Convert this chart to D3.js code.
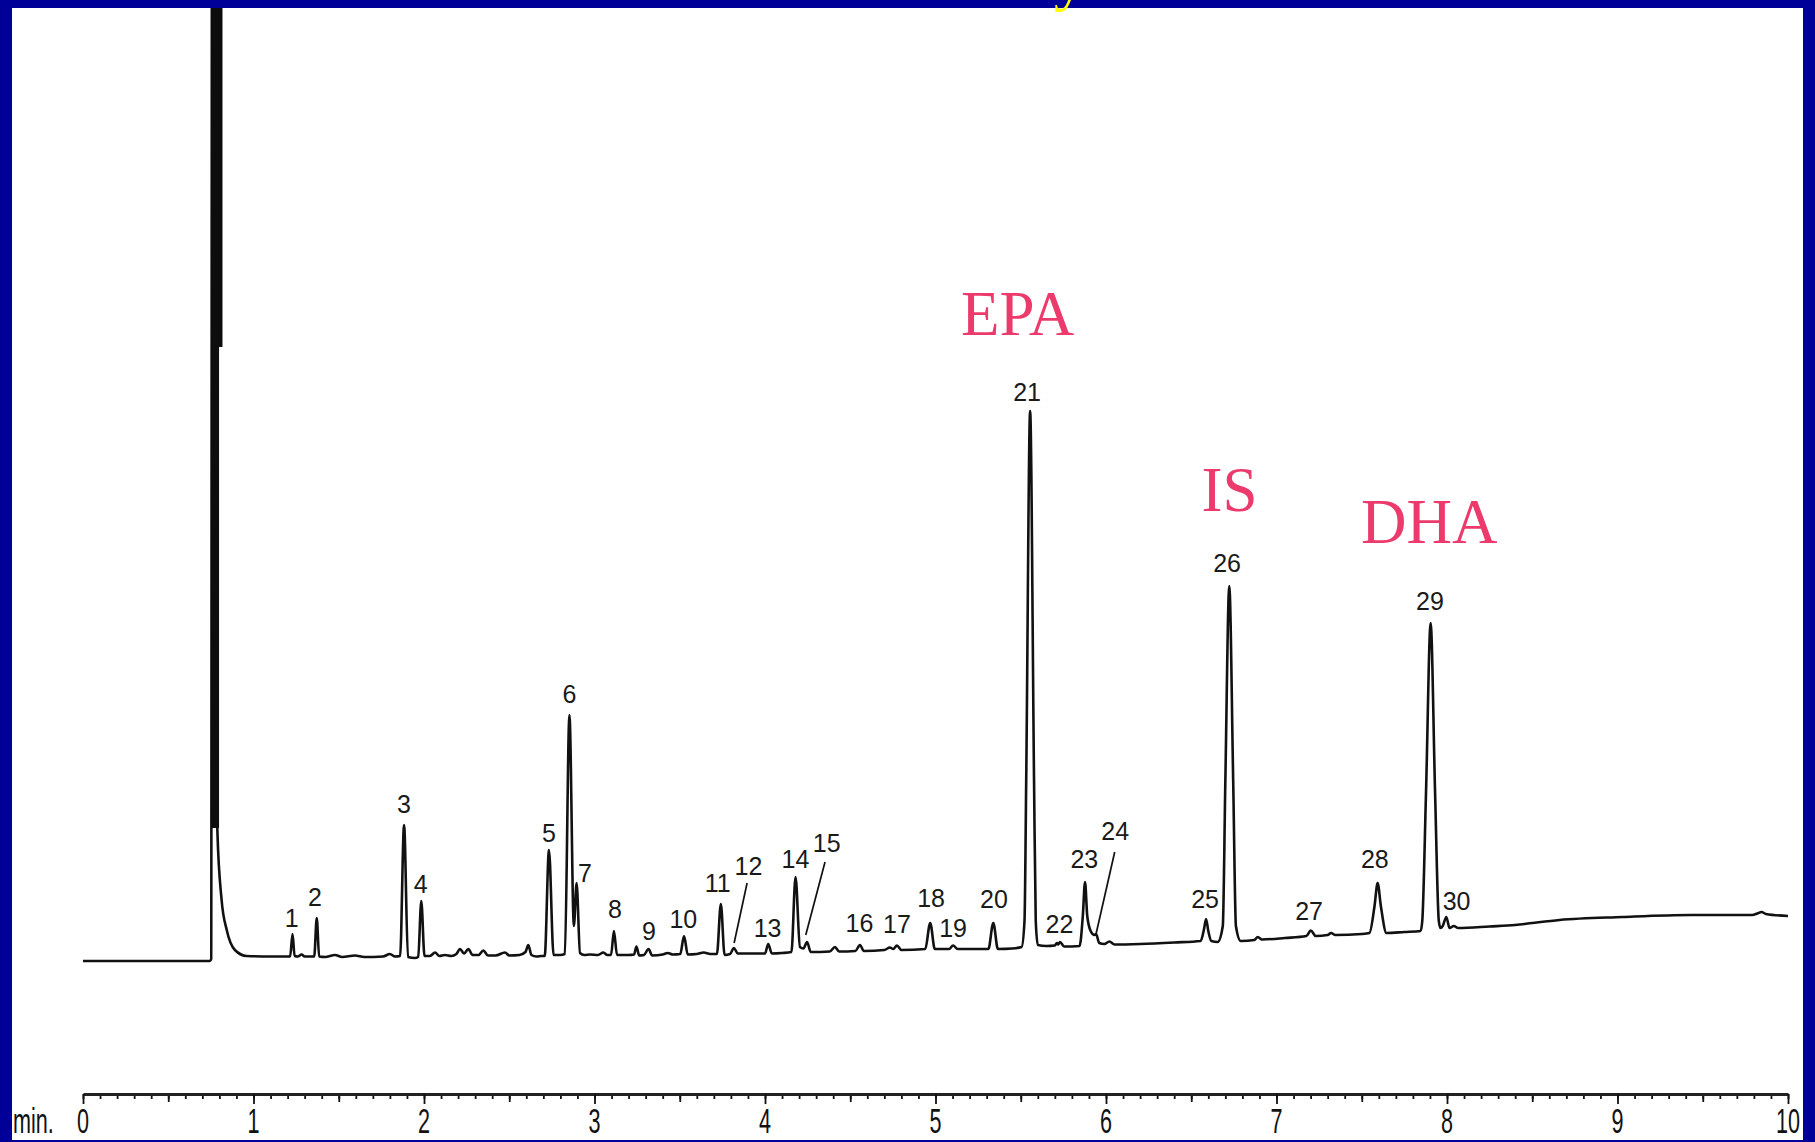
<!DOCTYPE html>
<html><head><meta charset="utf-8">
<script src="https://cdn.jsdelivr.net/npm/d3@7"></script>
<style>html,body{margin:0;padding:0;background:#000099;overflow:hidden}</style>
</head><body>
<svg id="c" width="1815" height="1142"></svg>
<script>
// Chromatogram trace: [retention time (min), detector signal (a.u.)]
const trace = [
  [0.00, 0], [0.745, 0], [0.752, 2],
  [0.757, 1200], [0.784, 1200],
  [0.788, 131], [0.813, 61], [0.843, 31], [0.891, 11], [0.96, 5], [1.10, 4.5],
  [1.215, 4.5], [1.229, 27], [1.241, 5], [1.26, 4.5], [1.282, 6.5], [1.30, 4.5],
  [1.356, 4.5], [1.371, 43], [1.385, 4.5], [1.42, 4], [1.478, 6], [1.52, 4], [1.595, 5.5], [1.65, 4], [1.76, 4.5], [1.80, 7], [1.83, 4.5],
  [1.860, 5], [1.883, 136], [1.906, 4], [1.947, 3],
  [1.966, 4], [1.984, 60], [2.003, 5], [2.035, 5], [2.065, 8.5], [2.09, 5], [2.123, 6], [2.16, 5], [2.19, 7], [2.211, 12], [2.235, 7.5],
  [2.26, 12], [2.285, 6], [2.32, 6], [2.348, 10.5], [2.375, 5.5], [2.42, 5.5], [2.475, 8.5], [2.50, 5.5], [2.56, 6], [2.595, 9], [2.612, 16],
  [2.63, 6], [2.66, 4.5], [2.69, 5],
  [2.708, 5], [2.733, 111], [2.760, 6], [2.798, 6],
  [2.826, 7], [2.853, 246], [2.879, 35], [2.895, 78], [2.915, 8], [2.94, 6], [2.974, 6.5], [3.02, 6], [3.052, 8.5], [3.075, 6],
  [3.097, 6], [3.114, 30], [3.132, 6], [3.20, 6], [3.232, 6.5], [3.246, 14.5], [3.262, 5.5], [3.29, 6], [3.317, 12], [3.338, 5.5],
  [3.40, 6.5], [3.43, 8], [3.46, 6.5],
  [3.503, 7], [3.525, 25], [3.547, 6.5], [3.60, 7], [3.64, 8.5], [3.68, 7], [3.718, 7],
  [3.741, 57], [3.763, 6], [3.795, 7], [3.818, 13], [3.84, 7.5], [3.98, 7.5],
  [4.0, 7.5], [4.019, 17], [4.04, 7.5], [4.10, 8], [4.155, 9],
  [4.179, 84], [4.205, 14], [4.225, 12.5], [4.247, 19], [4.268, 9], [4.38, 9.5], [4.41, 14], [4.435, 9.5], [4.53, 10], [4.557, 16], [4.58, 10],
  [4.70, 11], [4.733, 13.5], [4.752, 12], [4.774, 15.5], [4.80, 11], [4.94, 12],
  [4.969, 38], [4.996, 12], [5.08, 12], [5.103, 15.5], [5.13, 12], [5.31, 12],
  [5.339, 38], [5.366, 12], [5.45, 12.5], [5.505, 14],
  [5.522, 40], [5.532, 180], [5.555, 550], [5.578, 180], [5.588, 40], [5.60, 16], [5.65, 15], [5.70, 15.5], [5.712, 18], [5.72, 16.5],
  [5.73, 19], [5.755, 14.5], [5.845, 15],
  [5.864, 45], [5.877, 79], [5.89, 45], [5.91, 30], [5.932, 26], [5.942, 27], [5.96, 18], [5.99, 17], [6.02, 19.5], [6.05, 16.5],
  [6.20, 17], [6.40, 18.5], [6.555, 20],
  [6.575, 32], [6.587, 42], [6.60, 30], [6.618, 20], [6.655, 19], [6.685, 35],
  [6.700, 180], [6.723, 375], [6.746, 180], [6.762, 35], [6.79, 20], [6.87, 21], [6.89, 24], [6.915, 21.5], [7.05, 23], [7.175, 25],
  [7.201, 30.5], [7.23, 25], [7.30, 26], [7.32, 28], [7.345, 26], [7.50, 27], [7.545, 28],
  [7.575, 55], [7.593, 78], [7.612, 55], [7.645, 28], [7.75, 29], [7.845, 30],
  [7.855, 40], [7.877, 169], [7.904, 338], [7.930, 169], [7.952, 40], [7.962, 33],
  [7.975, 35], [7.996, 44], [8.015, 33], [8.04, 35], [8.065, 33], [8.25, 34.5], [8.40, 36], [8.50, 38], [8.66, 41],
  [9.03, 44], [9.43, 46], [9.79, 46], [9.82, 47.5], [9.845, 49], [9.87, 47], [10.0, 45]
];

// Overloaded solvent front (heavy pen bands): time span and signal span
const solventBandT0 = [0.751, 0.751];
const solventBandT1 = [0.818, 0.798];
const solventBandLow = [614, 133];
const solventBandHigh = [1200, 614];

// Peak numbers and where their labels sit (time, signal level of text baseline)
const peakIds     = ["1","2","3","4","5","6","7","8","9","10","11","12","13","14","15","16","17","18","19","20","21","22","23","24","25","26","27","28","29","30"];
const labelTimes  = [1.224,1.361,1.883,1.981,2.733,2.853,2.944,3.120,3.320,3.521,3.723,3.903,4.015,4.179,4.362,4.554,4.774,4.974,5.103,5.343,5.537,5.727,5.873,6.054,6.581,6.710,7.191,7.577,7.900,8.056];
const labelLevels = [34,55,148,68,119,258,79,43,21,33,69,86,24,93,109,29,28,54,24,53,560,28,93,121,53,389,41,93,351,51];

// Leader lines for peaks 12, 15, 24: [t from, level from, t to, level to]
const leaderIds = ["12","15","24"];
const leaders = [[3.895, 78, 3.819, 18], [4.352, 99, 4.239, 26], [6.051, 109, 5.941, 26.5]];

// Compound annotations
const compoundNames  = ["EPA", "IS", "DHA"];
const compoundTimes  = [5.150, 6.560, 7.495];
const compoundLevels = [626.5, 450.5, 418];

// Axis
const majorTicks = [0,1,2,3,4,5,6,7,8,9,10];
const tickLabels = ["0","1","2","3","4","5","6","7","8","9","10"];
const axisUnit = "min.";
const titleFragment = "y";

const W = 1815, H = 1142;
const svg = d3.select("#c");
svg.append("rect").attr("width", W).attr("height", H).attr("fill", "#000099");
svg.append("rect").attr("x", 12).attr("y", 8).attr("width", 1791).attr("height", 1132).attr("fill", "#ffffff");

// cut-off slide title (only a descender shows, as in the source slide)
svg.append("text").attr("x", 1054).attr("y", -2)
  .attr("font-family", "'Liberation Serif','Times New Roman',serif")
  .attr("font-size", 63).attr("fill", "#ffff00").text(titleFragment);

svg.append("clipPath").attr("id", "plotclip").append("rect")
  .attr("x", 12).attr("y", 8).attr("width", 1791).attr("height", 1132);

const x = d3.scaleLinear().domain([0, 10]).range([83, 1788]);
const y = d3.scaleLinear().domain([0, 953]).range([961, 8]);

const plot = svg.append("g").attr("clip-path", "url(#plotclip)");

plot.append("path").datum(trace)
  .attr("d", d3.line().x(d => x(d[0])).y(d => y(d[1])).curve(d3.curveMonotoneX))
  .attr("fill", "none").attr("stroke", "#111").attr("stroke-width", 2.6)
  .attr("stroke-linejoin", "round");

plot.selectAll("rect.band").data(solventBandT0).join("rect").attr("class", "band")
  .attr("x", (d, i) => x(d))
  .attr("width", (d, i) => x(solventBandT1[i]) - x(d))
  .attr("y", (d, i) => y(solventBandHigh[i]))
  .attr("height", (d, i) => y(solventBandLow[i]) - y(solventBandHigh[i]))
  .attr("fill", "#0d0d0d");

// peak labels
plot.selectAll("text.pk").data(peakIds).join("text").attr("class", "pk")
  .attr("x", (d, i) => x(labelTimes[i]))
  .attr("y", (d, i) => y(labelLevels[i]))
  .attr("text-anchor", "middle")
  .attr("font-family", "'Liberation Sans',Arial,sans-serif")
  .attr("font-size", 25).attr("fill", "#1a1a1a").text(d => d);

plot.selectAll("line.ld").data(leaders).join("line").attr("class", "ld")
  .attr("x1", d => x(d[0])).attr("y1", d => y(d[1]))
  .attr("x2", d => x(d[2])).attr("y2", d => y(d[3]))
  .attr("stroke", "#111").attr("stroke-width", 1.7);

plot.selectAll("text.cmp").data(compoundNames).join("text").attr("class", "cmp")
  .attr("x", (d, i) => x(compoundTimes[i]))
  .attr("y", (d, i) => y(compoundLevels[i]))
  .attr("font-family", "'Liberation Serif','Times New Roman',serif")
  .attr("font-size", 63).attr("fill", "#ec3a6c").text(d => d);

// time axis
const axisY = 1094;
const minorVals = d3.range(0, 101).map(i => i / 10);
const halfVals = d3.range(0, 10).map(i => i + 0.5);
const gMinor = svg.append("g").attr("transform", `translate(0,${axisY})`)
  .call(d3.axisBottom(x).tickValues(minorVals).tickSize(5).tickSizeOuter(0).tickFormat(""));
const gHalf = svg.append("g").attr("transform", `translate(0,${axisY})`)
  .call(d3.axisBottom(x).tickValues(halfVals).tickSize(8).tickSizeOuter(0).tickFormat(""));
const gMajor = svg.append("g").attr("transform", `translate(0,${axisY})`)
  .call(d3.axisBottom(x).tickValues(majorTicks).tickSize(10).tickSizeOuter(0).tickFormat(""));
[gMinor, gHalf].forEach(g => g.select(".domain").remove());
[gMinor, gHalf, gMajor].forEach(g => g.selectAll(".tick line").attr("stroke", "#111").attr("stroke-width", 1.8));
gMajor.select(".domain").attr("stroke", "#222").attr("stroke-width", 2.8);

svg.selectAll("text.tl").data(majorTicks).join("text").attr("class", "tl")
  .attr("transform", (d) => `translate(${x(d)},1133) scale(0.6,1)`)
  .attr("text-anchor", "middle")
  .attr("font-family", "'Liberation Sans',Arial,sans-serif")
  .attr("font-size", 36).attr("fill", "#111")
  .text((d, i) => tickLabels[i]);

svg.append("text").attr("transform", "translate(13,1133) scale(0.6,1)")
  .attr("font-family", "'Liberation Sans',Arial,sans-serif")
  .attr("font-size", 36).attr("fill", "#111").text(axisUnit);
</script>
</body></html>
